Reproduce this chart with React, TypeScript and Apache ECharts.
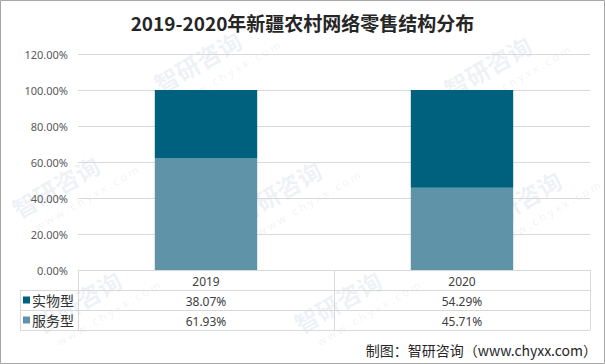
import React, { useEffect, useRef } from "react";
import * as echarts from "echarts";

const years = ["2019", "2020"];
const shiwu = [38.07, 54.29];
const fuwu = [61.93, 45.71];
const yTicks = [0, 20, 40, 60, 80, 100, 120];

const DARK = "#00617f";
const LIGHT = "#5e93a8";
const GRID = "#d9d9d9";
const FONT = "'Noto Sans', 'Noto Sans CJK SC', sans-serif";

export default function App() {
  const ref = useRef<HTMLDivElement>(null);
  useEffect(() => {
    if (!ref.current) return;
    const chart = echarts.init(ref.current, null, { renderer: "svg" });
    const L = 78, R = 590, T = 54, B = 270;
    const row = 20;
    const tableLines: any[] = [];
    const hl = (x1: number, x2: number, y: number) =>
      tableLines.push({ type: "line", shape: { x1, y1: y, x2, y2: y }, style: { stroke: GRID, lineWidth: 1 }, silent: true });
    const vl = (x: number, y1: number, y2: number) =>
      tableLines.push({ type: "line", shape: { x1: x, y1, x2: x, y2 }, style: { stroke: GRID, lineWidth: 1 }, silent: true });
    hl(L, R, B + 0.5);
    hl(20, R, B + row + 0.5);
    hl(20, R, B + 2 * row + 0.5);
    hl(20, R, B + 3 * row + 0.5);
    vl(20.5, B + row, B + 3 * row);
    vl(L + 0.5, B, B + 3 * row);
    vl((L + R) / 2 + 0.5, B, B + 3 * row);
    vl(R + 0.5, B, B + 3 * row);

    const wm = (x: number, y: number) => ({
      type: "group",
      x,
      y,
      rotation: Math.PI / 6,
      silent: true,
      children: [
        { type: "text", style: { text: "智研咨询", font: "bold 24px 'Noto Sans CJK SC'", fill: "rgba(120,150,180,0.13)" } },
        { type: "text", y: 32, x: 10, style: { text: "w w w . c h y x x . c o m", font: "11px 'Noto Sans'", fill: "rgba(120,150,180,0.13)" } },
      ],
    });

    chart.setOption({
      animation: false,
      title: {
        text: "2019-2020年新疆农村网络零售结构分布",
        left: "center",
        top: 8,
        textStyle: { fontSize: 19, fontWeight: "bold", color: "#262626", fontFamily: "'Noto Sans CJK SC', sans-serif" },
      },
      grid: { left: L, right: 605 - R, top: T, bottom: 364 - B },
      legend: {
        data: ["实物型", "服务型"],
        orient: "vertical",
        left: 23,
        top: B + row + 1,
        icon: "rect",
        itemWidth: 7,
        itemHeight: 7,
        itemGap: 2,
        padding: 0,
        textStyle: { fontSize: 14, color: "#333", fontFamily: "'Noto Sans CJK SC', sans-serif", lineHeight: 18, height: 18, padding: [0, 0, 0, -3] },
      },
      xAxis: [
        {
          type: "category",
          data: years,
          axisLine: { show: false },
          axisTick: { show: false },
          axisLabel: { margin: 5, fontSize: 12, color: "#404040", fontFamily: FONT },
        },
        {
          type: "category",
          data: shiwu.map((v) => v.toFixed(2) + "%"),
          position: "bottom",
          offset: row,
          axisLine: { show: false },
          axisTick: { show: false },
          axisLabel: { margin: 5, fontSize: 12, color: "#404040", fontFamily: FONT },
        },
        {
          type: "category",
          data: fuwu.map((v) => v.toFixed(2) + "%"),
          position: "bottom",
          offset: 2 * row,
          axisLine: { show: false },
          axisTick: { show: false },
          axisLabel: { margin: 5, fontSize: 12, color: "#404040", fontFamily: FONT },
        },
      ],
      yAxis: {
        type: "value",
        min: yTicks[0],
        max: yTicks[yTicks.length - 1],
        interval: 20,
        axisLine: { show: false },
        axisTick: { show: false },
        splitLine: { lineStyle: { color: GRID } },
        axisLabel: { fontSize: 11, color: "#595959", fontFamily: FONT, margin: 10, formatter: (v: number) => v.toFixed(2) + "%" },
      },
      series: [
        { name: "服务型", type: "bar", stack: "a", data: fuwu, barWidth: "40%", itemStyle: { color: LIGHT } },
        { name: "实物型", type: "bar", stack: "a", data: shiwu, barWidth: "40%", itemStyle: { color: DARK } },
      ],
      graphic: [
        wm(150, 75),
        wm(440, 80),
        wm(8, 200),
        wm(230, 205),
        wm(470, 215),
        wm(30, 315),
        wm(290, 315),
        ...tableLines,
        {
          type: "text",
          right: 8,
          top: 343,
          style: { text: "制图：智研咨询（www.chyxx.com）", font: "14px 'Noto Sans CJK SC'", fill: "#262626" },
        },
        {
          type: "rect",
          shape: { x: 0.5, y: 0.5, width: 604, height: 363 },
          style: { fill: "none", stroke: "#a6a6a6", lineWidth: 1 },
          silent: true,
        },
      ],
    });
    return () => chart.dispose();
  }, []);
  return <div ref={ref} style={{ position: "fixed", left: 0, top: 0, width: 605, height: 364, background: "#fff" }} />;
}
